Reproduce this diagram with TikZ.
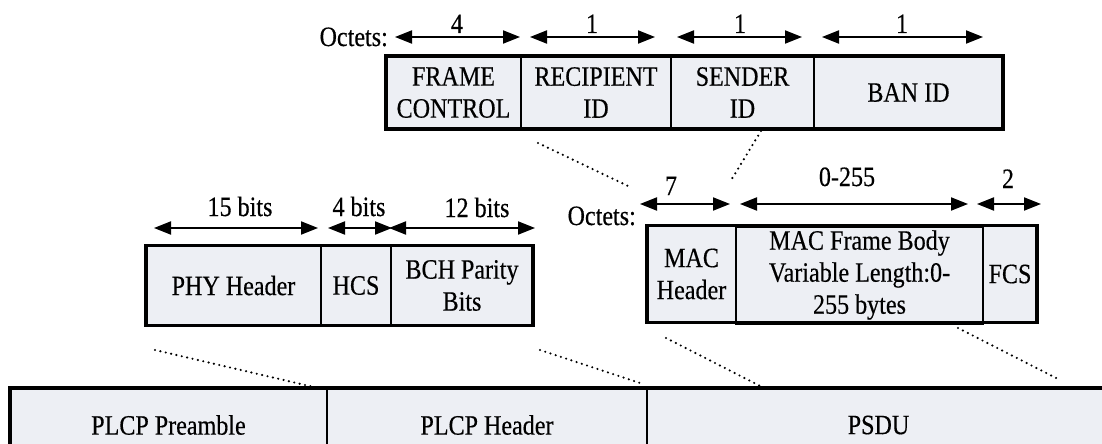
\documentclass[tikz,border=0pt]{standalone}
\usepackage{fontspec}
\setmainfont{Liberation Serif}[FakeStretch=0.86,FakeBold=0.4]
\usetikzlibrary{arrows.meta}
\newcommand{\cellfont}{\fontsize{28}{32}\selectfont}
\tikzset{
  cell/.style={draw, fill=cellfill, line width=2.2pt, inner sep=0pt, outer sep=0pt,
    align=center, font=\cellfont},
  frameline/.style={line width=3.2pt},
  octarrow/.style={line width=1.9pt,
    {Triangle[length=17pt,width=13pt]}-{Triangle[length=17pt,width=13pt]}},
  sizelabel/.style={anchor=base, inner sep=0pt, font=\cellfont},
  guide/.style={line width=2.4pt, dash pattern=on 0pt off 5.5pt, line cap=round}
}
\begin{document}
\begin{tikzpicture}[x=1pt,y=-1pt]
 \definecolor{cellfill}{HTML}{EDEFF4}
 \useasboundingbox (0,0) rectangle (1102,444);
 \clip (0,0) rectangle (1102,444);
 \node[cell, minimum width=135pt, minimum height=73pt] (fc) at (453.5,92.5) {FRAME\\CONTROL};
 \node[cell, minimum width=150pt, minimum height=73pt] (rid) at (596,92.5) {RECIPIENT\\ID};
 \node[cell, minimum width=143pt, minimum height=73pt] (sid) at (742.5,92.5) {SENDER\\ID};
 \node[cell, minimum width=189pt, minimum height=73pt] (ban) at (908.5,92.5) {BAN ID};
 \draw[frameline] (fc.north west) rectangle (ban.south east);
 \node[cell, minimum width=175pt, minimum height=80pt] (phyhdr) at (233.5,285.5) {PHY Header};
 \node[cell, minimum width=70pt, minimum height=80pt] (hcs) at (356,285.5) {HCS};
 \node[cell, minimum width=142pt, minimum height=80pt] (bch) at (462,285.5) {BCH Parity\\Bits};
 \draw[frameline] (phyhdr.north west) rectangle (bch.south east);
 \node[cell, minimum width=89pt, minimum height=97pt] (machdr) at (691.5,274) {MAC\\Header};
 \node[cell, minimum width=247pt, minimum height=97pt] (body) at (859.5,275)
   {MAC Frame Body\\Variable Length:0-\\255 bytes};
 \node[cell, minimum width=54pt, minimum height=97pt] (fcs) at (1010,274) {FCS};
 \draw[frameline] (machdr.north west) rectangle (fcs.south east);
 \node[cell, minimum width=317pt, minimum height=74pt] (pre) at (168.5,425) {PLCP Preamble};
 \node[cell, minimum width=320pt, minimum height=74pt] (plcphdr) at (487,425) {PLCP Header};
 \node[cell, minimum width=463pt, minimum height=74pt] (psdu) at (878.5,425) {PSDU};
 \draw[frameline] (pre.north west) rectangle (psdu.south east);
 \node[sizelabel, anchor=base east] (oct1) at (388,46) {Octets:};
 \node[sizelabel, anchor=base east] (oct2) at (636,225) {Octets:};
 \foreach \xa/\xb/\y in {395/520/37, 530/655/37, 677/802/37, 822/983/37,
   154/318/228, 328/392/228, 389/535/228, 640/730/204, 740/968/204, 977/1041/204}
   \draw[octarrow] (\xa,\y) -- (\xb,\y);
 \foreach \x/\y/\lab in {457/33/4, 592/33/1, 740/33/1, 902/33/1,
   240/216/15 bits, 359/216/4 bits, 477/217/12 bits, 671/195/7, 847/186/0-255, 1008/188/2}
   \node[sizelabel] at (\x,\y) {\lab};
 \coordinate (t1) at (538,143);
 \coordinate (t2) at (628,186);
 \coordinate (t3) at (761,131);
 \coordinate (t4) at (730,182);
 \coordinate (p1) at (155,350);
 \coordinate (p2) at (318,388);
 \coordinate (p3) at (540,350);
 \coordinate (p4) at (640,383);
 \coordinate (p5) at (666,338);
 \coordinate (p6) at (768,390);
 \coordinate (p7) at (958,328);
 \coordinate (p8) at (1060,380);
 \draw[guide] (t1) -- (t2);
 \draw[guide] (t3) -- (t4);
 \draw[guide] (p1) -- (p2);
 \draw[guide] (p3) -- (p4);
 \draw[guide] (p5) -- (p6);
 \draw[guide] (p7) -- (p8);
\end{tikzpicture}
\end{document}
